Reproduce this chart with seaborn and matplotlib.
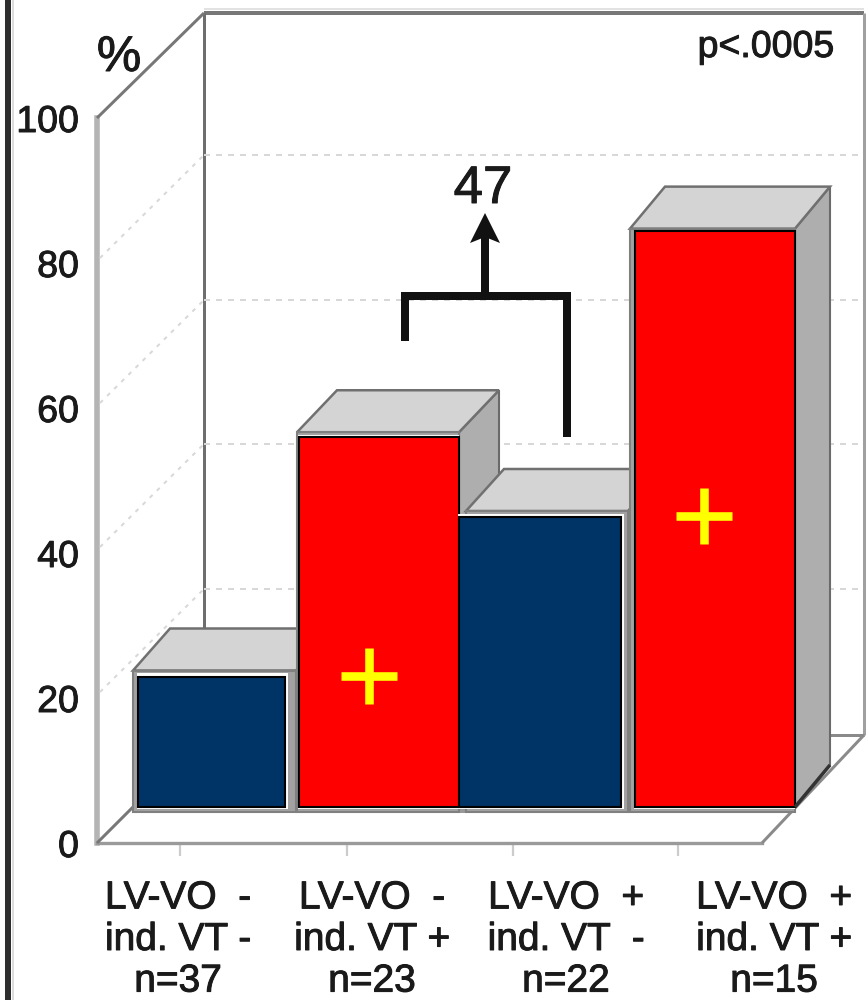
import matplotlib
matplotlib.use("Agg")
import matplotlib.pyplot as plt
import matplotlib.patheffects as pe
from matplotlib.patches import Polygon, Rectangle
from matplotlib.transforms import Affine2D
import seaborn as sns

# data
groups = ["neg", "pos", "neg", "pos"]
values = [18, 51, 40, 79.5]
tick_values = [0, 20, 40, 60, 80, 100]
labels = ["LV-VO  -\nind. VT -\nn=37", "LV-VO  -\nind. VT +\nn=23",
          "LV-VO  +\nind. VT  -\nn=22", "LV-VO  +\nind. VT +\nn=15"]
palette = {"neg": "#003366", "pos": "#FF0000"}

# layout in picture pixels
W, H = 866, 1000
PX = 0.72
bar_left = [138, 299, 459, 635]
bar_right = [285, 459, 621, 795]
frame_left = [133, 297, 466, 630]
frame_right = [296, 459, 628, 795]
frame_pad = [6, 5, 6, 2]
side_dx = [37, 40, 38, 35]
bar_base = 807
y_scale = 7.25
depth_y = -42

sns.set_style("white")
plt.rcParams["font.family"] = ["Liberation Sans", "DejaVu Sans"]
fig = plt.figure(figsize=(W / 100, H / 100), dpi=100, facecolor="white")
pix = Affine2D().scale(1 / W, -1 / H).translate(0, 1) + fig.transFigure
heavy = [pe.withStroke(linewidth=0.7, foreground="#1a1a1a")]

# front plane, carries the axis
front = fig.add_axes([97 / W, 1 - 843 / H, (762 - 97) / W, (843 - 118) / H])
front.set_xlim(97, 762)
front.set_ylim(0, 100)
front.set_yticks(tick_values)
front.set_xticks([180, 347, 513, 678])
front.set_xticklabels([])
front.tick_params(axis="y", length=0, pad=13, labelsize=27, labelcolor="#1a1a1a")
front.tick_params(axis="x", bottom=True, length=9, width=1.6, color="#cccccc")
for lab in front.get_yticklabels():
    lab.set_path_effects(heavy)
for name in ["top", "right"]:
    front.spines[name].set_visible(False)
front.spines["left"].set(color="#b4b4b4", linewidth=4)
front.spines["bottom"].set(color="#9a9a9a", linewidth=2.4)
front.patch.set_alpha(0)

# bars
ax = fig.add_axes([0, 0, 1, 1], zorder=5)
sns.barplot(x=[(a + b) / 2 for a, b in zip(bar_left, bar_right)], y=values, hue=groups,
            palette=palette, native_scale=True, dodge=False, legend=False, saturation=1,
            edgecolor="black", linewidth=1.5, ax=ax)
ax.set_xlim(0, W)
ax.set_ylim((bar_base - H) / y_scale, bar_base / y_scale)
ax.axis("off")


def line(xs, ys, color="#777777", lw=2.0, ls="-", z=1):
    ax.plot(xs, ys, color=color, lw=lw * PX, ls=ls, transform=pix, zorder=z,
            solid_capstyle="butt", solid_joinstyle="miter", clip_on=False)


# walls and floor
line([8, 8], [0, 1000], color="#2e2e2e", lw=6)
line([13, 13], [0, 1000], color="#dddddd", lw=2)
line([204, 864], [13, 13], lw=4)
line([204, 864], [9, 9], color="#e2e2e2", lw=2)
line([204, 204], [13, 735], color="#6e6e6e", lw=3)
line([864, 864], [13, 735], color="#a0a0a0", lw=3)
line([97, 204], [118, 13], lw=3)
line([97, 133], [843, 807], lw=3)
line([204, 864], [735, 735], color="#8a8a8a", lw=3)
line([864, 762], [735, 843], color="#8a8a8a", lw=3)
line([133, 790], [811, 811], color="#999999", lw=4)
for y in [155, 300, 444, 589]:
    line([204, 864], [y, y], color="#d8d8d8", lw=2, ls=(0, (3, 3)))
    line([100, 204], [y + 103, y], color="#d8d8d8", lw=2, ls=(0, (2, 3)))

# boxes, left to right so the later ones cover the earlier ones
bars = sorted([b for b in ax.patches if b.get_height() > 0], key=lambda b: b.get_x())
for i, bar in enumerate(bars):
    bar.set_x(bar_left[i])
    bar.set_width(bar_right[i] - bar_left[i])
    top = bar_base - bar.get_height() * y_scale
    ftop = top - frame_pad[i]
    z = 10 + i * 5
    fl, fr, br = frame_left[i], frame_right[i], bar_right[i]
    dx = side_dx[i]
    side = Polygon([(fr, ftop), (fr + dx, ftop + depth_y), (fr + dx, 765), (br, bar_base)],
                   closed=True, facecolor="#aeaeae", edgecolor="#6a6a6a", lw=1.5,
                   transform=pix, zorder=z, clip_on=False)
    cap = Polygon([(fl, ftop), (fl + dx, ftop + depth_y), (fr + dx, ftop + depth_y), (fr, ftop)],
                  closed=True, facecolor="#d4d4d4", edgecolor="#707070", lw=1.8,
                  transform=pix, zorder=z + 1, clip_on=False)
    frame = Rectangle((fl, ftop), fr - fl, bar_base + 5 - ftop, facecolor="#a2a2a2",
                      edgecolor="#808080", lw=1.5, transform=pix, zorder=z + 2, clip_on=False)
    inner_r = min(br + 3, fr)
    inner = Rectangle((bar_left[i] - 1.5, ftop + 2.5), inner_r - bar_left[i] + 1.5,
                      bar_base + 2 - ftop - 2.5, facecolor="white", edgecolor="none",
                      transform=pix, zorder=z + 3, clip_on=False)
    for patch in [side, cap, frame, inner]:
        ax.add_patch(patch)
    bar.set_zorder(z + 4)

# dark edge under the last box
line([795, 830], [807, 765], color="#333333", lw=3.5, z=40)

# yellow plus marks
ax.plot([369, 704], [676, 516], ls="none", marker="+", color="#FFFF00", ms=40, mew=6.2,
        transform=pix, zorder=45, clip_on=False)

# bracket and arrow
line([405, 405, 567, 567], [341, 296, 296, 437], color="#111111", lw=8, z=45)
line([485, 485], [296, 236], color="#111111", lw=8, z=45)
ax.add_patch(Polygon([(485, 213), (500, 243), (485, 237), (470, 243)], closed=True,
                     facecolor="#111111", edgecolor="none", transform=pix, zorder=45))

# text
ax.text(119, 58, "%", fontsize=36, ha="center", va="center", transform=pix, color="#1a1a1a",
        path_effects=heavy)
ax.text(483, 189, "47", fontsize=38, ha="center", va="center", transform=pix, color="#1a1a1a",
        zorder=46, path_effects=heavy)
ax.text(766, 47, "p<.0005", fontsize=27, ha="center", va="center", transform=pix, color="#1a1a1a",
        path_effects=heavy)
for x, lab in zip([178, 372, 566, 774], labels):
    ax.text(x, 940, lab, fontsize=28, ha="center", va="center", multialignment="center",
            linespacing=1.2, transform=pix, color="#1a1a1a", clip_on=False, path_effects=heavy)

fig.savefig("out.png", dpi=100)
